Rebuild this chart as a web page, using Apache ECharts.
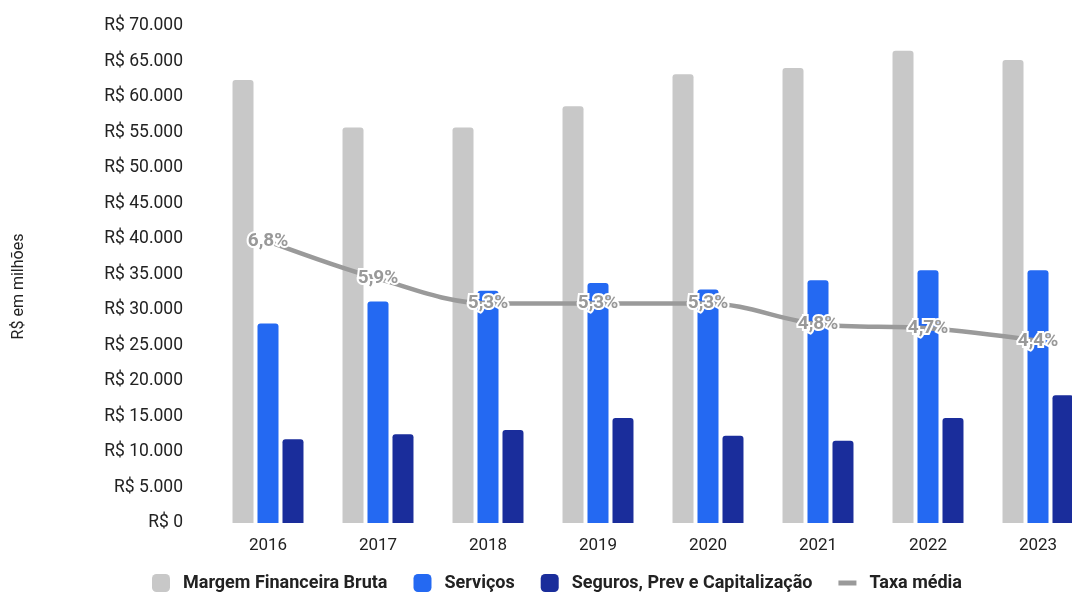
<!DOCTYPE html>
<html>
<head>
<meta charset="utf-8">
<script src="https://cdn.jsdelivr.net/npm/echarts@6/dist/echarts.min.js"></script>
<style>
  html, body { margin: 0; padding: 0; background: #fff; overflow: hidden; }
  #chart { width: 1093px; height: 593px; }
</style>
</head>
<body>
<div id="chart"></div>
<script>
// Receitas por ano (R$ milhões) e taxa média (%)
const anos = ['2016', '2017', '2018', '2019', '2020', '2021', '2022', '2023'];
const margemFinanceira = [62400, 55700, 55700, 58700, 63200, 64100, 66500, 65200];
const servicos = [28100, 31200, 32700, 33800, 32900, 34200, 35600, 35600];
const seguros = [11800, 12500, 13100, 14800, 12300, 11600, 14800, 18000];
const taxaMedia = [6.8, 5.9, 5.3, 5.3, 5.3, 4.8, 4.7, 4.4];

const nomes = ['Margem Financeira Bruta', 'Serviços', 'Seguros, Prev e Capitalização', 'Taxa média'];
const cores = ['#c8c8c8', '#2469f2', '#1a2d9b', '#9a9a9a'];

const fonte = 'Roboto, "Noto Sans", sans-serif';

function reais(v) {
  return 'R$ ' + String(v).replace(/\B(?=(\d{3})+(?!\d))/g, '.');
}

const chart = echarts.init(document.getElementById('chart'), null, { renderer: 'canvas' });

const barra = (i, dados) => ({
  name: nomes[i],
  type: 'bar',
  data: dados,
  barWidth: 21,
  barGap: '19%',
  itemStyle: { color: cores[i], borderRadius: [3, 3, 0, 0] },
  emphasis: { disabled: true }
});

chart.setOption({
  animation: false,
  textStyle: { fontFamily: fonte },
  grid: { left: 213, right: 0, top: 26, bottom: 70 },
  legend: {
    left: 152,
    top: 574,
    padding: 0,
    itemWidth: 18,
    itemHeight: 18,
    itemGap: 26,
    data: [
      { name: nomes[0], icon: 'roundRect' },
      { name: nomes[1], icon: 'roundRect' },
      { name: nomes[2], icon: 'roundRect' },
      { name: nomes[3], icon: 'path://M0,0 H18 V5 H0 Z', itemStyle: { color: cores[3], opacity: 1 } }
    ],
    textStyle: {
      fontFamily: fonte,
      fontSize: 18,
      fontWeight: 'bold',
      color: '#222',
      padding: [0, 0, 0, 8]
    }
  },
  xAxis: {
    type: 'category',
    data: anos,
    axisLine: { show: false },
    axisTick: { show: false },
    axisLabel: { fontFamily: fonte, fontSize: 17, color: '#222', margin: 14 }
  },
  yAxis: [
    {
      type: 'value',
      min: 0,
      max: 70000,
      interval: 5000,
      name: 'R$ em milhões',
      nameLocation: 'middle',
      nameGap: 186,
      nameTextStyle: { fontFamily: fonte, fontSize: 16, color: '#222', padding: [0, 24, 0, 0] },
      axisLine: { show: false },
      axisTick: { show: false },
      splitLine: { show: false },
      axisLabel: { fontFamily: fonte, fontSize: 17.5, color: '#222', margin: 30, formatter: reais }
    },
    {
      type: 'value',
      min: 0,
      max: 12,
      show: false,
      splitLine: { show: false }
    }
  ],
  series: [
    barra(0, margemFinanceira),
    barra(1, servicos),
    barra(2, seguros),
    {
      name: nomes[3],
      type: 'line',
      yAxisIndex: 1,
      data: taxaMedia,
      smooth: 0.35,
      symbol: 'circle',
      symbolSize: 1,
      showSymbol: true,
      z: 5,
      lineStyle: { color: cores[3], width: 4.5 },
      itemStyle: { color: cores[3], opacity: 0 },
      emphasis: { disabled: true },
      label: {
        show: true,
        position: 'inside',
        fontFamily: fonte,
        fontSize: 19,
        fontWeight: 'bold',
        color: '#999999',
        textBorderColor: '#fff',
        textBorderWidth: 4,
        opacity: 1,
        formatter: p => p.value.toFixed(1).replace('.', ',') + '%'
      }
    }
  ]
});
</script>
</body>
</html>
